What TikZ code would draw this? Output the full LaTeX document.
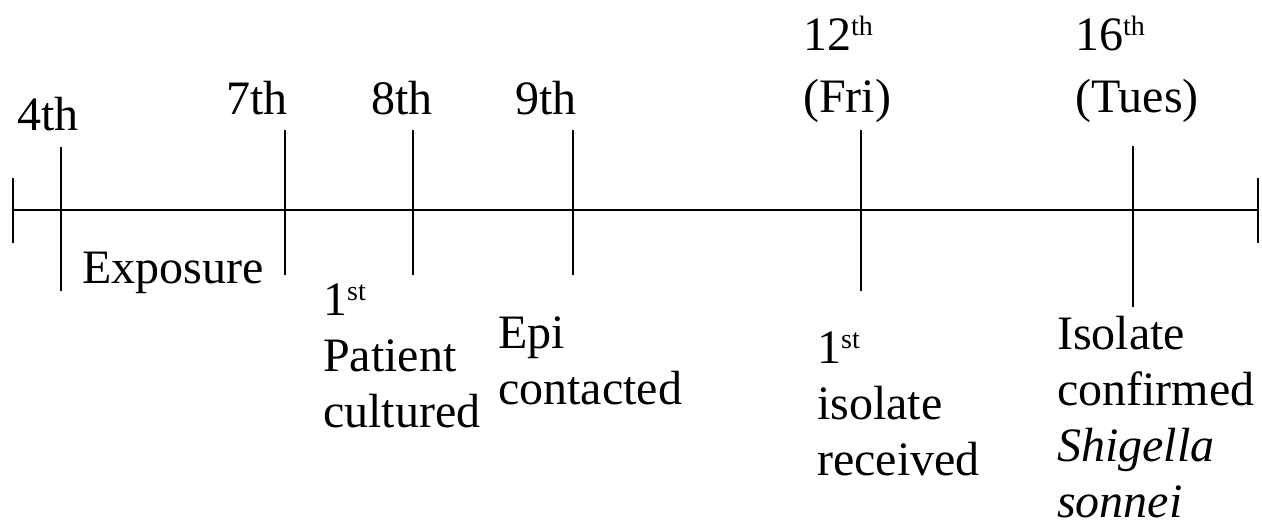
\documentclass[tikz,border=0pt]{standalone}
\usepackage{fontspec}
\setmainfont{Liberation Serif}
\usetikzlibrary{positioning}

% small raised ordinal ending
\newcommand{\ordsup}[1]{\raisebox{15pt}{\fontsize{28}{28}\selectfont #1}}

\begin{document}
\begin{tikzpicture}[
        x=1pt, y=-1pt,
        every node/.style={inner sep=0pt, anchor=base west, align=left, font=\fontsize{48}{56}\selectfont},
        timeline/.style={line width=2pt}
    ]
    \useasboundingbox (0,0) rectangle (1262,523);

    % Axis
    \coordinate (start) at (13,210);
    \coordinate (end) at (1258,210);
    \draw[timeline] (start) -- (end);
    \draw[timeline] ([yshift=32pt]start) -- ([yshift=-33pt]start);
    \draw[timeline] ([yshift=32pt]end) -- ([yshift=-33pt]end);

    % Ticks
    \foreach \x/\top/\bot in {61/147/291, 285/130/275, 413/130/275, 573/130/275, 861/130/291, 1133/146/307}
        \draw[timeline] (\x,\top) -- (\x,\bot);

    % Dates (multi-line nodes sit on their last baseline)
    \node (d4) at (17,130) {4th};
    \node (d7) at (226,114) {7th};
    \node (d8) at (371,114) {8th};
    \node (d9) at (515,114) {9th};
    \node (d12) at (803,112) {12\ordsup{th}\\[6pt](Fri)};
    \node (d16) at (1075,112) {16\ordsup{th}\\[6pt](Tues)};

    % Events
    \node (exposure) at (82,283) {Exposure};
    \node (cultured) at (323,427) {1\ordsup{st}\\Patient\\cultured};
    \node (contacted) at (498,404) {Epi\\contacted};
    \node (received) at (817,475) {1\ordsup{st}\\isolate\\received};
    \node (confirmed) at (1057,517) {Isolate\\confirmed\\\textit{Shigella}\\\textit{sonnei}};

\end{tikzpicture}
\end{document}
